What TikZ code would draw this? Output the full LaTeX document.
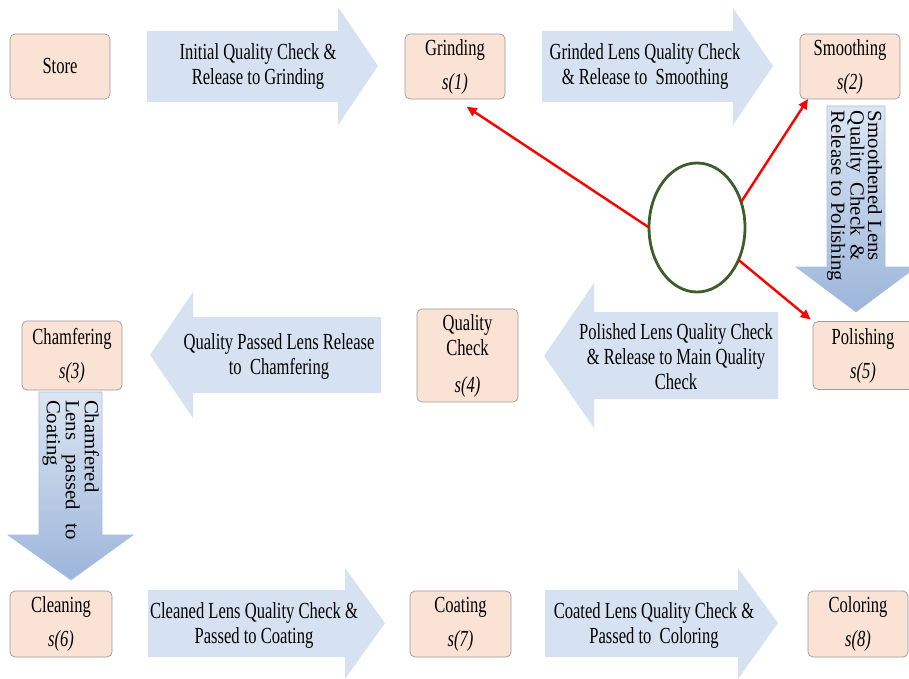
\documentclass[tikz,border=0pt]{standalone}
\usepackage{fontspec}
\setmainfont{Liberation Serif}[FakeStretch=0.72]
\newfontfamily\rotfont{Liberation Serif}[FakeStretch=1.04]
\usetikzlibrary{arrows.meta,shapes.geometric,calc}
\definecolor{boxfill}{HTML}{FAE2D5}
\definecolor{boxline}{HTML}{9A9A9A}
\definecolor{flowblue}{HTML}{D6E2F1}
\definecolor{flowtop}{HTML}{DCE6F3}
\definecolor{flowdark}{HTML}{9CB5DA}
\definecolor{flowedge}{HTML}{A9BEDD}
\definecolor{ringgreen}{HTML}{3B5E2A}

\begin{document}
\begin{tikzpicture}[x=1pt,y=1pt,
  every node/.style={inner sep=0pt, outer sep=0pt},
  stage/.style={draw=boxline, line width=0.7pt, fill=boxfill, rounded corners=5pt,
    align=center, font=\fontsize{23}{25}\selectfont},
  flowtext/.style={align=center, font=\fontsize{23}{25}\selectfont},
  hflow/.style={fill=flowblue},
  vflow/.style={top color=flowtop, bottom color=flowdark, draw=flowedge, line width=0.6pt},
  vtext/.style={rotate=-90, anchor=north west, align=left},
  redarrow/.style={draw=red, line width=2.4pt, -{Triangle[length=10pt,width=9pt]}}
]
\useasboundingbox (0,0) rectangle (909,-679);

% process stages
\node[stage, minimum width=100, minimum height=65] (store) at (60,-66.5) {Store};
\node[stage, minimum width=100, minimum height=65] (grind) at (455,-66.5) {Grinding\\[9pt]\textit{s(1)}};
\node[stage, minimum width=100, minimum height=65] (smooth) at (850,-66.5) {Smoothing\\[9pt]\textit{s(2)}};
\node[stage, minimum width=100, minimum height=69] (chamf) at (72,-355.5) {Chamfering\\[9pt]\textit{s(3)}};
\node[stage, minimum width=101, minimum height=93] (qcheck) at (467.5,-355.5) {Quality\\Check\\[12pt]\textit{s(4)}};
\node[stage, minimum width=100, minimum height=68] (polish) at (863,-355.5) {Polishing\\[9pt]\textit{s(5)}};
\node[stage, minimum width=102, minimum height=66] (clean) at (61,-624) {Cleaning\\[9pt]\textit{s(6)}};
\node[stage, minimum width=101, minimum height=66] (coat) at (460.5,-624) {Coating\\[9pt]\textit{s(7)}};
\node[stage, minimum width=100, minimum height=66] (color) at (858,-624) {Coloring\\[9pt]\textit{s(8)}};

% block arrows between the stages
\fill[hflow] (147,-31) -- (338,-31) -- (338,-7) -- (378,-66) -- (338,-125) -- (338,-102) -- (147,-102) -- cycle;
\node[flowtext] (f1) at (258,-67) {Initial Quality Check \&\\Release to Grinding};

\fill[hflow] (542,-31) -- (733,-31) -- (733,-8) -- (773,-66) -- (733,-125) -- (733,-102) -- (542,-102) -- cycle;
\node[flowtext] (f2) at (645,-67) {Grinded Lens Quality Check\\\& Release to~ Smoothing};

\path[vflow] (827,-106) -- (885,-106) -- (885,-267) -- (916,-267) -- (856,-312) -- (796,-267) -- (827,-267) -- cycle;
\node[vtext, font=\rotfont\fontsize{20}{17.5}\selectfont] (f3) at (882,-111)
  {\makebox[150pt][s]{Smoothened Lens}\\\makebox[150pt][s]{Quality Check \&}\\Release to Polishing};

\fill[hflow] (778,-312) -- (594,-312) -- (594,-283) -- (544,-356) -- (594,-428) -- (594,-399) -- (778,-399) -- cycle;
\node[flowtext] (f4) at (676,-357) {Polished Lens Quality Check\\\& Release to Main Quality\\Check};

\fill[hflow] (381,-317) -- (193,-317) -- (193,-292) -- (150,-355) -- (193,-418) -- (193,-393) -- (381,-393) -- cycle;
\node[flowtext] (f5) at (279,-356) {Quality Passed Lens Release\\to~ Chamfering};

\path[vflow] (39,-392) -- (102,-392) -- (102,-535) -- (133,-535) -- (71,-580) -- (8,-535) -- (39,-535) -- cycle;
\node[vtext, font=\rotfont\fontsize{20}{19}\selectfont] (f6) at (99,-400)
  {Chamfered\\\makebox[140pt][s]{Lens passed to}\\Coating};

\fill[hflow] (148,-590) -- (345,-590) -- (345,-568) -- (385,-623) -- (345,-679) -- (345,-657) -- (148,-657) -- cycle;
\node[flowtext] (f7) at (254,-625) {Cleaned Lens Quality Check \&\\Passed to Coating};

\fill[hflow] (545,-590) -- (738,-590) -- (738,-568) -- (778,-623) -- (738,-679) -- (738,-657) -- (545,-657) -- cycle;
\node[flowtext] (f8) at (654,-625) {Coated Lens Quality Check \&\\Passed to~ Coloring};

% feedback ring and its red links
\node[ellipse, draw=ringgreen, line width=2.8pt, minimum width=96, minimum height=129] (ring) at (697,-227.5) {};
\draw[redarrow, shorten >=14pt] (ring.180) -- (grind.south);
\draw[redarrow] (ring.30) -- ($(smooth.south west)+(8,0)$);
\draw[redarrow, shorten >=3pt] (ring.-38) -- (polish.north west);
\end{tikzpicture}
\end{document}
